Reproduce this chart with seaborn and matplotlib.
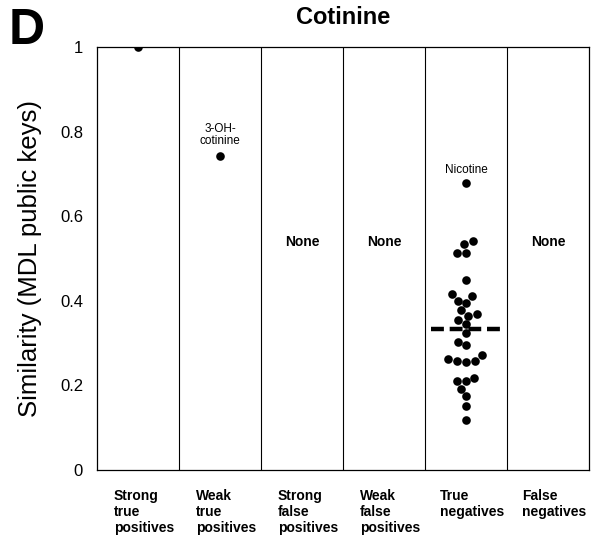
import numpy as np
import pandas as pd
import matplotlib
matplotlib.use("Agg")
import matplotlib.pyplot as plt
import matplotlib.transforms as mtransforms
import seaborn as sns

# Categories (x axis)
categories = [
    "Strong\ntrue\npositives",
    "Weak\ntrue\npositives",
    "Strong\nfalse\npositives",
    "Weak\nfalse\npositives",
    "True\nnegatives",
    "False\nnegatives",
]

# Similarity values per category
strong_true_pos = [1.0]
weak_true_pos = [0.742]
strong_false_pos = []
weak_false_pos = []
true_negatives = [
    0.678, 0.542, 0.534, 0.514, 0.514, 0.448, 0.415, 0.410, 0.400, 0.394,
    0.378, 0.369, 0.365, 0.355, 0.345, 0.323, 0.303, 0.296, 0.272, 0.262,
    0.258, 0.258, 0.254, 0.217, 0.210, 0.209, 0.191, 0.175, 0.150, 0.118,
]
false_negatives = []

yticks = [0, 0.2, 0.4, 0.6, 0.8, 1]
ytick_labels = ["0", "0.2", "0.4", "0.6", "0.8", "1"]

groups = [strong_true_pos, weak_true_pos, strong_false_pos,
          weak_false_pos, true_negatives, false_negatives]
rows = []
for cat, vals in zip(categories, groups):
    for v in vals:
        rows.append({"category": cat, "similarity": v})
df = pd.DataFrame(rows)

sns.set_style("white")
plt.rcParams["font.family"] = ["Liberation Sans", "DejaVu Sans"]
for key in ["text.color", "axes.labelcolor", "xtick.color", "ytick.color"]:
    plt.rcParams[key] = "black"

fig = plt.figure(figsize=(5.91, 5.37), dpi=100)
ax = fig.add_axes([0.164, 0.125, 0.833, 0.7875])

sns.swarmplot(data=df, x="category", y="similarity", order=categories,
              color="black", size=6.2, ax=ax)

# median of true negatives
tn_idx = categories.index("True\nnegatives")
ax.hlines(np.median(true_negatives), tn_idx - 0.43, tn_idx + 0.43,
          colors="black", linewidth=3.2, linestyles=(0, (2.9, 1.3)), zorder=3)

# column separators
for i in range(1, len(categories)):
    ax.axvline(i - 0.5, color="black", linewidth=0.8)

ax.set_xlim(-0.5, len(categories) - 0.5)
ax.set_ylim(0, 1)
ax.set_yticks(yticks)
ax.set_yticklabels(ytick_labels, fontsize=12)
ax.tick_params(axis="y", length=0, pad=10)
ax.tick_params(axis="x", length=0, pad=14)
ax.set_xticks(range(len(categories)))
ax.set_xticklabels(categories, fontsize=10, fontweight="bold",
                   multialignment="left", va="top", linespacing=1.15)
# nudge category labels a little to the right
shift = mtransforms.ScaledTranslation(6 / 100, 0, fig.dpi_scale_trans)
for lbl in ax.get_xticklabels():
    lbl.set_transform(lbl.get_transform() + shift)
ax.set_xlabel("")
ax.set_ylabel("Similarity (MDL public keys)", fontsize=18.5, labelpad=13)
for sp in ax.spines.values():
    sp.set_visible(True)
    sp.set_color("black")
    sp.set_linewidth(0.9)

# "None" labels for empty categories
for i, vals in enumerate(groups):
    if len(vals) == 0:
        ax.text(i, 0.539, "None", ha="center", va="center",
                fontsize=10, fontweight="bold")

# compound annotations
ax.text(1, 0.792, "3-OH-\ncotinine", ha="center", va="center",
        fontsize=8.5, linespacing=1.0)
ax.text(tn_idx, 0.709, "Nicotine", ha="center", va="center", fontsize=8.5)

fig.text(0.58, 0.968, "Cotinine", ha="center", va="center",
         fontsize=17, fontweight="bold")
fig.text(0.015, 0.942, "D", ha="left", va="center",
         fontsize=36, fontweight="bold")

fig.savefig("out.png", dpi=100)
